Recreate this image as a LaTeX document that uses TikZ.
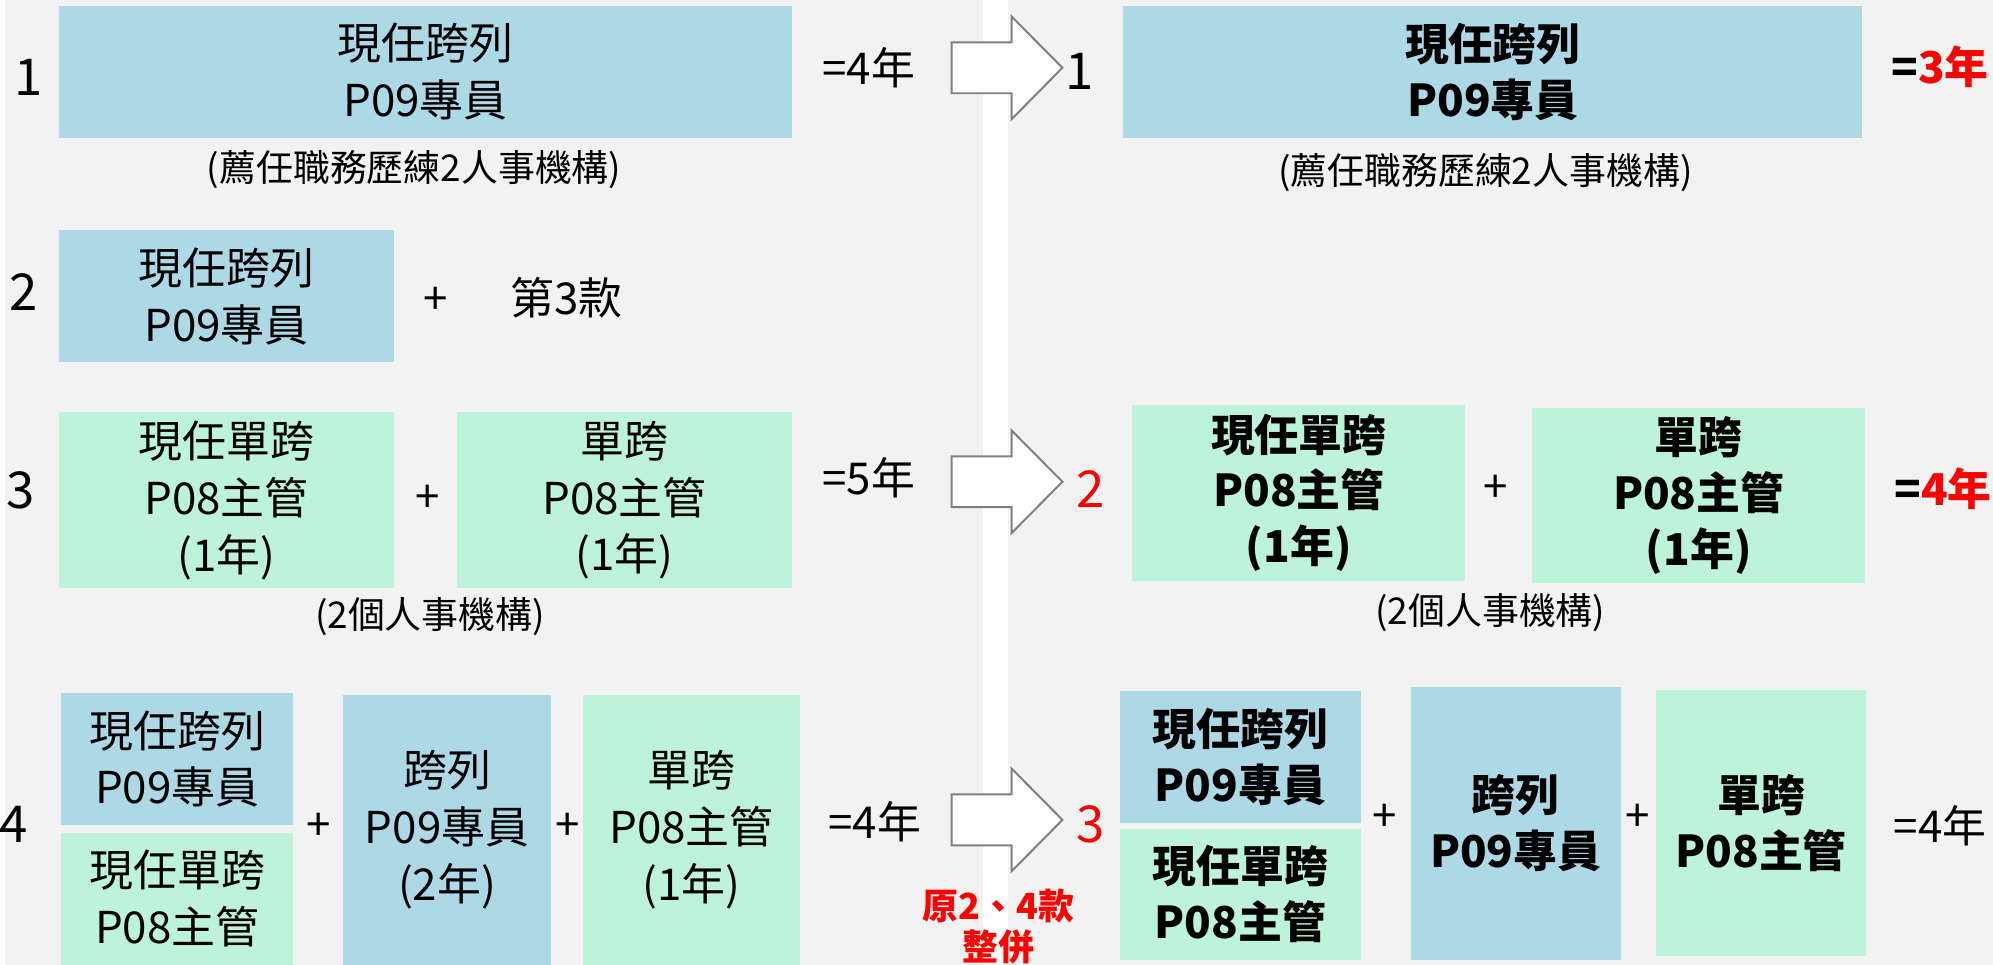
\documentclass[tikz,border=0pt]{standalone}
\usepackage{fontspec}
\setmainfont{Noto Sans CJK TC}
\usetikzlibrary{positioning}

\definecolor{pagegray}{HTML}{F2F2F2}
\definecolor{cellblue}{HTML}{ADD8E6}
\definecolor{cellgreen}{HTML}{BDF3DA}
\definecolor{arrowgray}{HTML}{808080}

\tikzset{
    cell/.style={inner sep=0pt,align=center,font=\fontsize{22}{28.5}\selectfont},
    bcell/.style={cell,font=\bfseries\fontsize{22}{28}\selectfont},
    blu/.style={fill=cellblue},
    grn/.style={fill=cellgreen},
    boxsize/.style 2 args={minimum width=#1*0.5pt,minimum height=#2*0.5pt},
    num/.style={inner sep=0pt,font=\fontsize{25.5}{28}\selectfont},
    txt/.style={inner sep=0pt,font=\fontsize{22}{28}\selectfont},
    btxt/.style={inner sep=0pt,font=\bfseries\fontsize{22}{28}\selectfont},
    note/.style={inner sep=0pt,font=\fontsize{18.5}{22}\selectfont},
    rednote/.style={inner sep=0pt,align=center,text=red,font=\bfseries\fontsize{18}{20.5}\selectfont},
    blockarrow/.pic={
        \draw[arrowgray,fill=white,line width=1pt] (0,-25.5) -- (60,-25.5) -- (60,-51.5) -- (111,0)
            -- (60,51.5) -- (60,25.5) -- (0,25.5) -- cycle;
    }
}

\begin{document}
\begin{tikzpicture}[x=0.5pt,y=-0.5pt]
    % page and middle stripe
    \fill[pagegray] (0,0) rectangle (1993,967);
    \fill[white] (980,0) rectangle (1005,967);

    % left: old items
    \node[num] (n1) at (24,78) {1};
    \node[cell,blu,boxsize={735}{132}] (l1) at (421.5,72) {現任跨列\\P09專員};
    \node[note] (l1note) at (410,170) {(薦任職務歷練2人事機構)};
    \node[txt] (l1sum) at (866,68) {=4年};

    \node[num] (n2) at (19,293) {2};
    \node[cell,blu,boxsize={336}{132}] (l2) at (222,297) {現任跨列\\P09專員};
    \node[txt] (l2plus) at (432,302) {+};
    \node[txt] (l2ref) at (563,298) {第3款};

    \node[num] (n3) at (16,492) {3};
    \node[cell,grn,boxsize={336}{177}] (l3a) at (222,501.5) {現任單跨\\P08主管\\(1年)};
    \node[txt] (l3plus) at (424,500) {+};
    \node[cell,grn,boxsize={336}{177}] (l3b) at (621,501.5) {單跨\\P08主管\\(1年)};
    \node[note] (l3note) at (426,618) {(2個人事機構)};
    \node[txt] (l3sum) at (866,479) {=5年};

    \node[num] (n4) at (9,826) {4};
    \node[cell,blu,boxsize={233}{132}] (l4a) at (172.5,761) {現任跨列\\P09專員};
    \node[cell,grn,boxsize={233}{132}] (l4b) at (172.5,901) {現任單跨\\P08主管};
    \node[txt] (l4plus1) at (314,829) {+};
    \node[cell,blu,boxsize={208}{270}] (l4c) at (443,832) {跨列\\P09專員\\(2年)};
    \node[txt] (l4plus2) at (564,829) {+};
    \node[cell,grn,boxsize={218}{270}] (l4d) at (688,832) {單跨\\P08主管\\(1年)};
    \node[txt] (l4sum) at (872,824) {=4年};

    % arrows
    \pic (arr1) at (949,68) {blockarrow};
    \pic (arr2) at (949,483) {blockarrow};
    \pic (arr3) at (949,822) {blockarrow};
    \node[rednote] (merge) at (996,929) {原2、4款\\整併};

    % right: new items
    \node[num] (m1) at (1077,72) {1};
    \node[bcell,blu,boxsize={741}{132}] (r1) at (1491.5,72) {現任跨列\\P09專員};
    \node[note] (r1note) at (1484,173) {(薦任職務歷練2人事機構)};
    \node[btxt] (r1sum) at (1940,67) {=\textcolor{red}{3年}};

    \node[num,text=red] (m2) at (1088,490) {2};
    \node[bcell,grn,boxsize={334}{176}] (r2a) at (1297,494) {現任單跨\\P08主管\\(1年)};
    \node[txt] (r2plus) at (1494,490) {+};
    \node[bcell,grn,boxsize={334}{176}] (r2b) at (1698,497) {單跨\\P08主管\\(1年)};
    \node[note] (r2note) at (1489,614) {(2個人事機構)};
    \node[btxt] (r2sum) at (1943,490) {=\textcolor{red}{4年}};

    \node[num,text=red] (m3) at (1088,826) {3};
    \node[bcell,blu,boxsize={241}{132}] (r3a) at (1238.5,759) {現任跨列\\P09專員};
    \node[bcell,grn,boxsize={241}{131}] (r3b) at (1238.5,896.5) {現任單跨\\P08主管};
    \node[txt] (r3plus1) at (1383,820) {+};
    \node[bcell,blu,boxsize={211}{273}] (r3c) at (1514.5,825.5) {跨列\\P09專員};
    \node[txt] (r3plus2) at (1637,820) {+};
    \node[bcell,grn,boxsize={211}{266}] (r3d) at (1760.5,825) {單跨\\P08主管};
    \node[txt] (r3sum) at (1940,828) {=4年};
\end{tikzpicture}
\end{document}
